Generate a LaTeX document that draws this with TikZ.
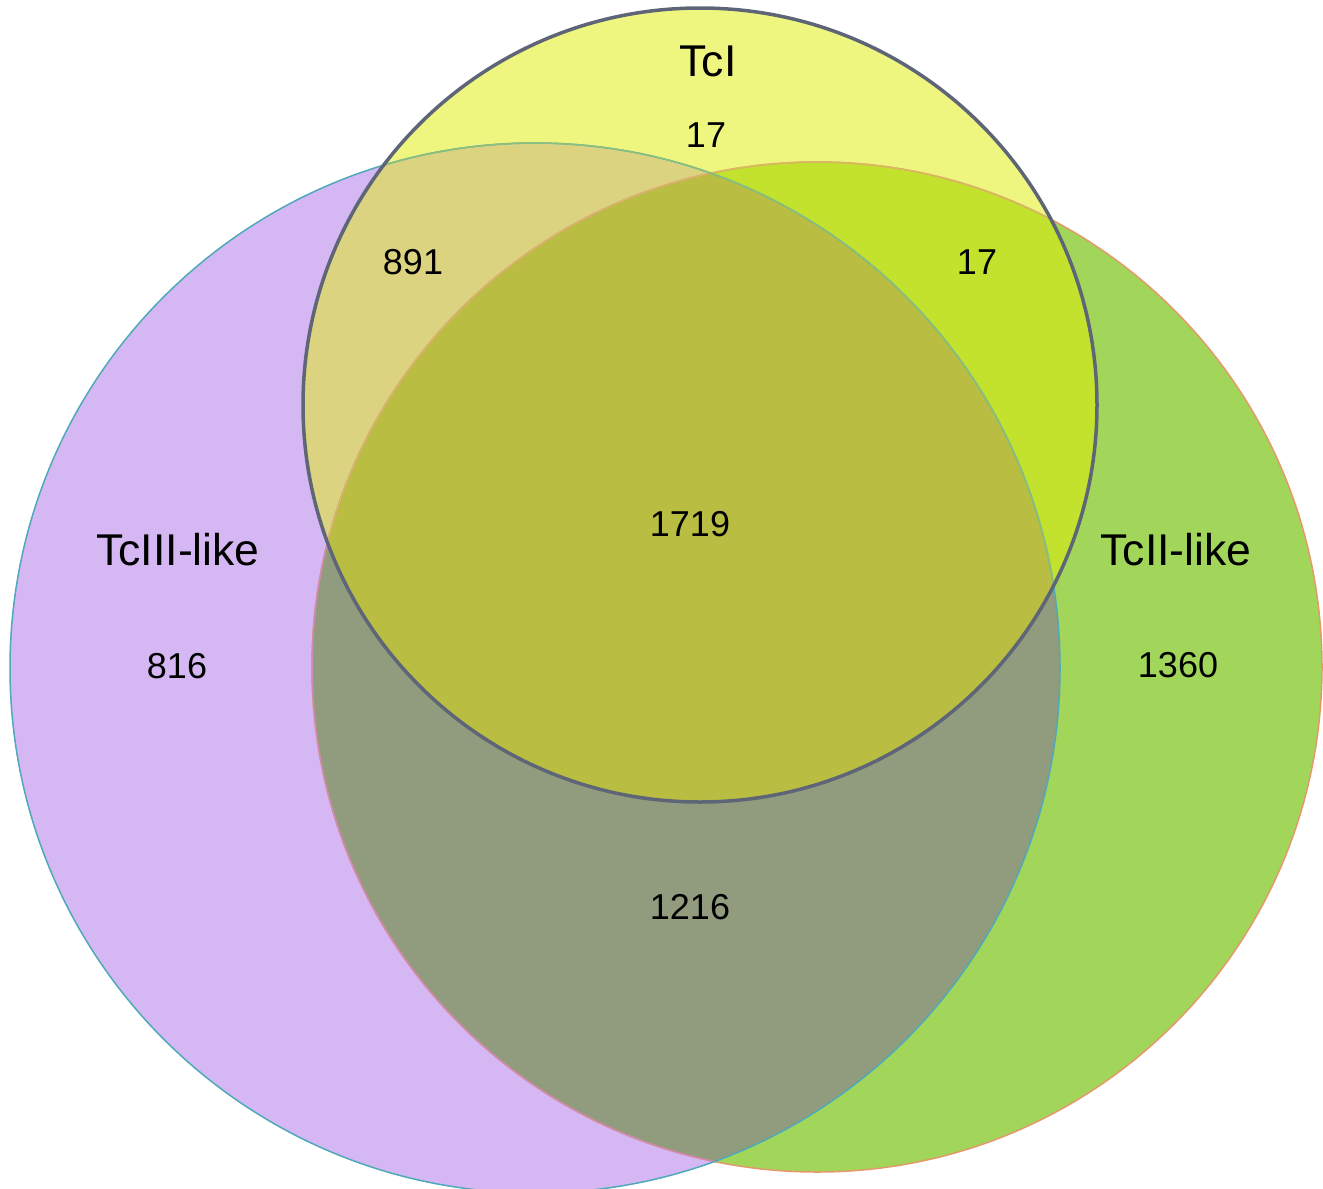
\documentclass[tikz,border=0pt]{standalone}
\usepackage{fontspec}
\setmainfont{Liberation Sans}
\definecolor{purp}{RGB}{213,184,243}
\definecolor{grn}{RGB}{162,214,91}
\definecolor{yel}{RGB}{238,246,128}
\definecolor{pg}{RGB}{145,155,125}
\definecolor{py}{RGB}{219,211,128}
\definecolor{gy}{RGB}{194,226,46}
\definecolor{pgy}{RGB}{185,190,67}
\definecolor{pedge}{RGB}{79,169,184}
\definecolor{pedgeY}{RGB}{139,191,122}
\definecolor{gedge}{RGB}{227,154,106}
\definecolor{gedgeP}{RGB}{208,138,176}
\definecolor{gedgeY}{RGB}{216,184,96}
\definecolor{yedge}{RGB}{94,101,119}
\tikzset{
  setlabel/.style={font=\fontsize{44.5}{52}\selectfont, text=black, inner sep=0pt},
  count/.style={font=\fontsize{36}{43}\selectfont, text=black, inner sep=0pt}
}
\begin{document}
\begin{tikzpicture}[x=1pt,y=-1pt]
\useasboundingbox (0,0) rectangle (1323,1189);
\def\P{(535,668) circle[radius=525pt]}
\def\G{(817,667) circle[radius=505pt]}
\def\Y{(700,405) circle[radius=397pt]}
% region fills
\fill[purp] \P;
\fill[grn] \G;
\fill[yel] \Y;
\begin{scope}\clip \P; \fill[pg] \G; \end{scope}
\begin{scope}\clip \P; \fill[py] \Y; \end{scope}
\begin{scope}\clip \G; \fill[gy] \Y; \end{scope}
\begin{scope}\clip \P; \clip \G; \fill[pgy] \Y; \end{scope}
% edges
\draw[gedge, line width=1.5pt] \G;
\begin{scope}\clip \P; \draw[gedgeP, line width=1.5pt] \G; \end{scope}
\begin{scope}\clip \Y; \draw[gedgeY, line width=1.5pt] \G; \end{scope}
\draw[pedge, line width=1.5pt] \P;
\begin{scope}\clip \Y; \draw[pedgeY, line width=1.5pt] \P; \end{scope}
\draw[yedge, line width=3.5pt] \Y;
% labels
\node[setlabel] (tci) at (708,61) {TcI};
\node[setlabel] (tciii) at (178,550) {TcIII-like};
\node[setlabel] (tcii) at (1176,550) {TcII-like};
\node[count] (n17a) at (706,135) {17};
\node[count] (n891) at (413,262) {891};
\node[count] (n17b) at (977,262) {17};
\node[count] (n1719) at (690,524) {1719};
\node[count] (n816) at (177,666) {816};
\node[count] (n1360) at (1178,665) {1360};
\node[count] (n1216) at (690,907) {1216};
\end{tikzpicture}
\end{document}
